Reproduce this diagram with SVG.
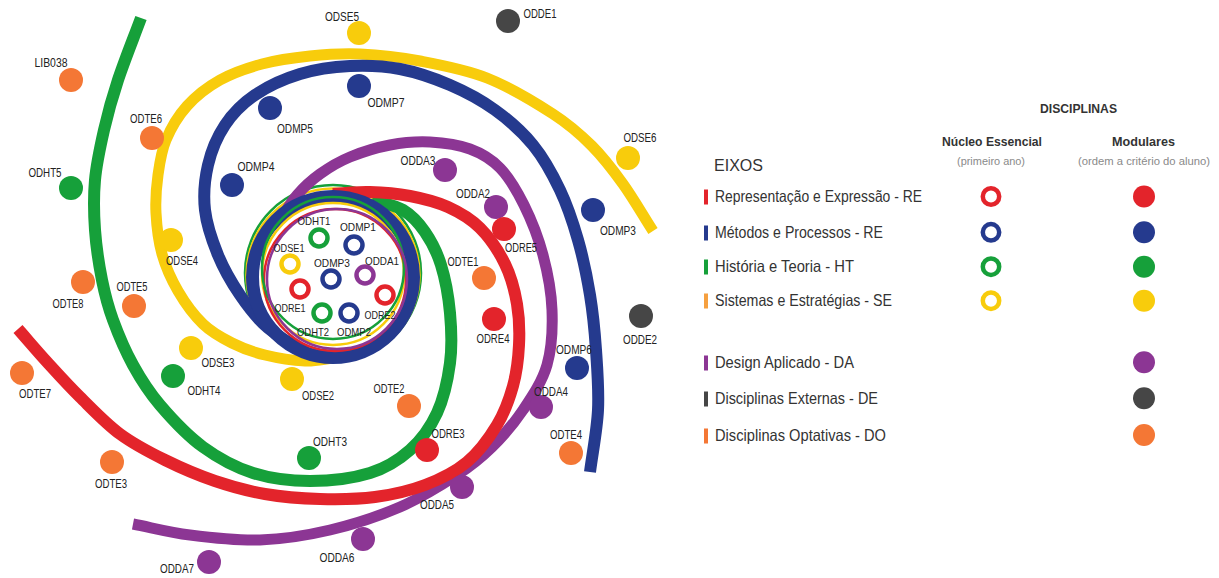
<svg xmlns="http://www.w3.org/2000/svg" width="1219" height="578" viewBox="0 0 1219 578">
<style>
.sp{fill:none;stroke-linecap:butt}
.thin{fill:none;stroke-width:2.5}
.lbl{font-family:"Liberation Sans",Arial,sans-serif;font-size:12px;fill:#222;text-anchor:middle}
.ilbl{font-family:"Liberation Sans",Arial,sans-serif;font-size:11.5px;fill:#222;text-anchor:middle}
.leg{font-family:"Liberation Sans",Arial,sans-serif;font-size:16.5px;fill:#333}
.head{font-family:"Liberation Sans",Arial,sans-serif;font-weight:bold;fill:#333}
.sub{font-family:"Liberation Sans",Arial,sans-serif;font-size:11px;fill:#8a8a8a}
.re{fill:#e3242b}.mp{fill:#253a8e}.ht{fill:#16a03a}.se{fill:#f8cc0c}.da{fill:#8c3694}.de{fill:#464646}.do{fill:#f47735}
.hre{fill:#fff;stroke:#e3242b;stroke-width:4.5}.hmp{fill:#fff;stroke:#253a8e;stroke-width:4.5}.hht{fill:#fff;stroke:#16a03a;stroke-width:4.5}.hse{fill:#fff;stroke:#f8cc0c;stroke-width:4.5}.hda{fill:#fff;stroke:#8c3694;stroke-width:4.5}
</style>
<rect width="1219" height="578" fill="#fff"/>

<g id="spirals">
  <circle class="thin" cx="333" cy="273" r="88" stroke="#16a03a"/>
  <circle class="thin" cx="333" cy="275" r="86.5" stroke="#f8cc0c"/>
  <path id="axis-HT" class="sp" stroke="#16a03a" stroke-width="12" d="M372,200 C381.1,202.6 394.2,204.7 403,210 C411.8,215.3 418.7,222.8 425,232 C431.3,241.2 436.8,251.5 441,265 C445.2,278.5 448.5,296.7 450,313 C451.5,329.3 452.2,346.3 450,363 C447.8,379.7 443.7,398.5 437,413 C430.3,427.5 421.2,440 410,450 C398.8,460 386.7,467.8 370,473 C353.3,478.2 329.5,481 310,481 C290.5,481 270.8,478.7 253,473 C235.2,467.3 218.5,458.3 203,447 C187.5,435.7 171.7,418.7 160,405 C148.3,391.3 140.8,379.2 133,365 C125.2,350.8 118.2,334.2 113,320 C107.8,305.8 105,295 102,280 C99,265 96.2,246.7 95,230 C93.8,213.3 93.5,196.7 95,180 C96.5,163.3 100.2,146.7 104,130 C107.8,113.3 111.8,98.7 118,80 C124.2,61.3 133.3,38.7 141,18"/>
  <path id="axis-DA" class="sp" stroke="#8c3694" stroke-width="11" d="M279,221 C284.4,214 290.2,202.8 297,195 C303.8,187.2 311.2,180.3 320,174 C328.8,167.7 338.3,161.8 350,157 C361.7,152.2 376.7,147.5 390,145 C403.3,142.5 416.7,141.3 430,142 C443.3,142.7 458.3,144.7 470,149 C481.7,153.3 491,158.7 500,168 C509,177.3 516.8,190.5 524,205 C531.2,219.5 538.3,237.5 543,255 C547.7,272.5 551.3,291.7 552,310 C552.7,328.3 551.8,348.3 547,365 C542.2,381.7 532.2,396.3 523,410 C513.8,423.7 503,436.2 492,447 C481,457.8 472.3,465 457,475 C441.7,485 421.2,497.8 400,507 C378.8,516.2 353.3,524.5 330,530 C306.7,535.5 283.3,539.2 260,540 C236.7,540.8 211.2,537.7 190,535 C168.8,532.3 152,527.7 133,524"/>
  <path id="axis-RE" class="sp" stroke="#e3242b" stroke-width="12" d="M333,194 C344.7,192.8 357.2,191.7 370,192 C382.8,192.3 397,193.5 410,196 C423,198.5 436.3,201.7 448,207 C459.7,212.3 470.5,218.5 480,228 C489.5,237.5 498.8,251.3 505,264 C511.2,276.7 514.7,290.5 517,304 C519.3,317.5 519.7,331.3 519,345 C518.3,358.7 516.7,372.7 513,386 C509.3,399.3 504.7,412.3 497,425 C489.3,437.7 479,452 467,462 C455,472 440.3,479.2 425,485 C409.7,490.8 392.5,494.7 375,497 C357.5,499.3 338.3,499.5 320,499 C301.7,498.5 282.5,497 265,494 C247.5,491 231.7,486.7 215,481 C198.3,475.3 180.8,467.8 165,460 C149.2,452.2 134.2,444.5 120,434 C105.8,423.5 92.2,409 80,397 C67.8,385 57.3,373.3 47,362 C36.7,350.7 27.7,340 18,329"/>
  <path id="axis-SE" class="sp" stroke="#f8cc0c" stroke-width="11" d="M333,358 C323.8,359 316.3,361.5 305,361 C293.7,360.5 277.2,358 265,355 C252.8,352 242.3,348.2 232,343 C221.7,337.8 212,332.7 203,324 C194,315.3 184.8,302.7 178,291 C171.2,279.3 165.7,267 162,254 C158.3,241 156.7,226.2 156,213 C155.3,199.8 156.3,187.2 158,175 C159.7,162.8 161.2,151.5 166,140 C170.8,128.5 178,116 187,106 C196,96 207.5,87 220,80 C232.5,73 247,68 262,64 C277,60 293.7,57.7 310,56 C326.3,54.3 341.7,53.2 360,54 C378.3,54.8 398.8,57 420,61 C441.2,65 464.8,69.2 487,78 C509.2,86.8 535.5,102.7 553,114 C570.5,125.3 580.3,134.3 592,146 C603.7,157.7 612.8,169.8 623,184 C633.2,198.2 642.8,215.2 653,231"/>
  <path id="axis-MP" class="sp" stroke="#253a8e" stroke-width="12" d="M307,352 C297.2,347.2 279.2,337.5 268,328 C256.8,318.5 248.3,307.2 240,295 C231.7,282.8 223.8,269.2 218,255 C212.2,240.8 206.7,225 205,210 C203.3,195 204.7,179.2 208,165 C211.3,150.8 217.2,136.7 225,125 C232.8,113.3 242.5,103.5 255,95 C267.5,86.5 284.2,78.8 300,74 C315.8,69.2 333.3,66.8 350,66 C366.7,65.2 383.3,65.8 400,69 C416.7,72.2 434.2,78.2 450,85 C465.8,91.8 481.2,100 495,110 C508.8,120 522.2,131.7 533,145 C543.8,158.3 552.5,174.2 560,190 C567.5,205.8 573,222.5 578,240 C583,257.5 587,276.7 590,295 C593,313.3 594.7,330.8 596,350 C597.3,369.2 599,389.7 598,410 C597,430.3 592.7,451.3 590,472"/>
  <circle cx="333" cy="277" r="80.5" fill="none" stroke="#253a8e" stroke-width="13"/>
  <circle class="thin" cx="333" cy="274" r="71" stroke="#f8cc0c"/>
  <circle class="thin" cx="335" cy="280" r="71" stroke="#e3242b"/>
  <circle class="thin" cx="333" cy="268" r="71" stroke="#16a03a"/>
  <circle class="thin" cx="337" cy="279" r="70" stroke="#8c3694"/>
</g>

<g id="nodes">
  <g id="node-ODHT1"><circle class="hht" cx="319" cy="238" r="8.5"/><text class="ilbl" x="314" y="225" textLength="33" lengthAdjust="spacingAndGlyphs">ODHT1</text></g>
  <g id="node-ODMP1"><circle class="hmp" cx="354" cy="245" r="8.5"/><text class="ilbl" x="358" y="231" textLength="36" lengthAdjust="spacingAndGlyphs">ODMP1</text></g>
  <g id="node-ODSE1"><circle class="hse" cx="290" cy="264" r="8.5"/><text class="ilbl" x="289" y="252" textLength="31" lengthAdjust="spacingAndGlyphs">ODSE1</text></g>
  <g id="node-ODMP3c"><circle class="hmp" cx="331" cy="279" r="8.5"/><text class="ilbl" x="332" y="267" textLength="36" lengthAdjust="spacingAndGlyphs">ODMP3</text></g>
  <g id="node-ODDA1"><circle class="hda" cx="365" cy="275" r="8.5"/><text class="ilbl" x="382" y="265" textLength="34" lengthAdjust="spacingAndGlyphs">ODDA1</text></g>
  <g id="node-ODRE1"><circle class="hre" cx="300" cy="289" r="8.5"/><text class="ilbl" x="290" y="312" textLength="31" lengthAdjust="spacingAndGlyphs">ODRE1</text></g>
  <g id="node-ODRE2"><circle class="hre" cx="385" cy="295" r="8.5"/><text class="ilbl" x="380" y="319" textLength="31" lengthAdjust="spacingAndGlyphs">ODRE2</text></g>
  <g id="node-ODHT2"><circle class="hht" cx="322" cy="313" r="8.5"/><text class="ilbl" x="313" y="336" textLength="32" lengthAdjust="spacingAndGlyphs">ODHT2</text></g>
  <g id="node-ODMP2"><circle class="hmp" cx="349" cy="313" r="8.5"/><text class="ilbl" x="354" y="336" textLength="34" lengthAdjust="spacingAndGlyphs">ODMP2</text></g>

  <g id="node-LIB038"><circle class="do" cx="71" cy="80" r="12"/><text class="lbl" x="51" y="67" textLength="33" lengthAdjust="spacingAndGlyphs">LIB038</text></g>
  <g id="node-ODSE5"><circle class="se" cx="359" cy="33" r="12"/><text class="lbl" x="342" y="21" textLength="34" lengthAdjust="spacingAndGlyphs">ODSE5</text></g>
  <g id="node-ODDE1"><circle class="de" cx="508" cy="21" r="12"/><text class="lbl" x="540" y="18" textLength="33" lengthAdjust="spacingAndGlyphs">ODDE1</text></g>
  <g id="node-ODMP7"><circle class="mp" cx="359" cy="86" r="12"/><text class="lbl" x="386" y="107" textLength="37" lengthAdjust="spacingAndGlyphs">ODMP7</text></g>
  <g id="node-ODMP5"><circle class="mp" cx="270" cy="108" r="12"/><text class="lbl" x="295" y="133" textLength="36" lengthAdjust="spacingAndGlyphs">ODMP5</text></g>
  <g id="node-ODTE6"><circle class="do" cx="152" cy="138" r="12"/><text class="lbl" x="146" y="123" textLength="32" lengthAdjust="spacingAndGlyphs">ODTE6</text></g>
  <g id="node-ODSE6"><circle class="se" cx="628" cy="158" r="12"/><text class="lbl" x="640" y="142" textLength="33" lengthAdjust="spacingAndGlyphs">ODSE6</text></g>
  <g id="node-ODDA3"><circle class="da" cx="445" cy="170" r="12"/><text class="lbl" x="418" y="165" textLength="35" lengthAdjust="spacingAndGlyphs">ODDA3</text></g>
  <g id="node-ODMP4"><circle class="mp" cx="232" cy="185" r="12"/><text class="lbl" x="256" y="171" textLength="37" lengthAdjust="spacingAndGlyphs">ODMP4</text></g>
  <g id="node-ODHT5"><circle class="ht" cx="71" cy="188" r="12"/><text class="lbl" x="45" y="177" textLength="33" lengthAdjust="spacingAndGlyphs">ODHT5</text></g>
  <g id="node-ODDA2"><circle class="da" cx="496" cy="207" r="12"/><text class="lbl" x="473" y="198" textLength="34" lengthAdjust="spacingAndGlyphs">ODDA2</text></g>
  <g id="node-ODMP3"><circle class="mp" cx="593" cy="210" r="12"/><text class="lbl" x="618" y="235" textLength="36" lengthAdjust="spacingAndGlyphs">ODMP3</text></g>
  <g id="node-ODRE5"><circle class="re" cx="504" cy="229" r="12"/><text class="lbl" x="521" y="252" textLength="32" lengthAdjust="spacingAndGlyphs">ODRE5</text></g>
  <g id="node-ODSE4"><circle class="se" cx="171" cy="240" r="12"/><text class="lbl" x="182" y="265" textLength="32" lengthAdjust="spacingAndGlyphs">ODSE4</text></g>
  <g id="node-ODTE1"><circle class="do" cx="484" cy="278" r="12"/><text class="lbl" x="463" y="266" textLength="31" lengthAdjust="spacingAndGlyphs">ODTE1</text></g>
  <g id="node-ODTE8"><circle class="do" cx="83" cy="282" r="12"/><text class="lbl" x="68" y="308" textLength="31" lengthAdjust="spacingAndGlyphs">ODTE8</text></g>
  <g id="node-ODTE5"><circle class="do" cx="134" cy="306" r="12"/><text class="lbl" x="132" y="291" textLength="31" lengthAdjust="spacingAndGlyphs">ODTE5</text></g>
  <g id="node-ODDE2"><circle class="de" cx="641" cy="316" r="12"/><text class="lbl" x="640" y="344" textLength="34" lengthAdjust="spacingAndGlyphs">ODDE2</text></g>
  <g id="node-ODRE4"><circle class="re" cx="494" cy="319" r="12"/><text class="lbl" x="493" y="343" textLength="33" lengthAdjust="spacingAndGlyphs">ODRE4</text></g>
  <g id="node-ODSE3"><circle class="se" cx="191" cy="348" r="12"/><text class="lbl" x="218" y="367" textLength="33" lengthAdjust="spacingAndGlyphs">ODSE3</text></g>
  <g id="node-ODMP6"><circle class="mp" cx="577" cy="368" r="12"/><text class="lbl" x="574" y="354" textLength="36" lengthAdjust="spacingAndGlyphs">ODMP6</text></g>
  <g id="node-ODTE7"><circle class="do" cx="22" cy="373" r="12"/><text class="lbl" x="35" y="398" textLength="32" lengthAdjust="spacingAndGlyphs">ODTE7</text></g>
  <g id="node-ODHT4"><circle class="ht" cx="173" cy="376" r="12"/><text class="lbl" x="204" y="395" textLength="33" lengthAdjust="spacingAndGlyphs">ODHT4</text></g>
  <g id="node-ODSE2"><circle class="se" cx="292" cy="379" r="12"/><text class="lbl" x="318" y="400" textLength="32" lengthAdjust="spacingAndGlyphs">ODSE2</text></g>
  <g id="node-ODTE2"><circle class="do" cx="409" cy="406" r="12"/><text class="lbl" x="389" y="393" textLength="31" lengthAdjust="spacingAndGlyphs">ODTE2</text></g>
  <g id="node-ODDA4"><circle class="da" cx="541" cy="407" r="12"/><text class="lbl" x="551" y="396" textLength="34" lengthAdjust="spacingAndGlyphs">ODDA4</text></g>
  <g id="node-ODRE3"><circle class="re" cx="427" cy="450" r="12"/><text class="lbl" x="448" y="438" textLength="33" lengthAdjust="spacingAndGlyphs">ODRE3</text></g>
  <g id="node-ODTE4"><circle class="do" cx="571" cy="453" r="12"/><text class="lbl" x="566" y="439" textLength="32" lengthAdjust="spacingAndGlyphs">ODTE4</text></g>
  <g id="node-ODHT3"><circle class="ht" cx="309" cy="458" r="12"/><text class="lbl" x="330" y="446" textLength="34" lengthAdjust="spacingAndGlyphs">ODHT3</text></g>
  <g id="node-ODTE3"><circle class="do" cx="112" cy="462" r="12"/><text class="lbl" x="111" y="488" textLength="32" lengthAdjust="spacingAndGlyphs">ODTE3</text></g>
  <g id="node-ODDA5"><circle class="da" cx="462" cy="487" r="12"/><text class="lbl" x="437" y="509" textLength="34" lengthAdjust="spacingAndGlyphs">ODDA5</text></g>
  <g id="node-ODDA6"><circle class="da" cx="363" cy="539" r="12"/><text class="lbl" x="337" y="562" textLength="35" lengthAdjust="spacingAndGlyphs">ODDA6</text></g>
  <g id="node-ODDA7"><circle class="da" cx="209" cy="562" r="12"/><text class="lbl" x="177" y="573" textLength="34" lengthAdjust="spacingAndGlyphs">ODDA7</text></g>
</g>

<g id="legend">
  <text class="head" x="1040" y="113" font-size="12.5" textLength="77" lengthAdjust="spacingAndGlyphs">DISCIPLINAS</text>
  <text class="head" x="942" y="146" font-size="13.5" textLength="100" lengthAdjust="spacingAndGlyphs">Núcleo Essencial</text>
  <text class="head" x="1112" y="146" font-size="13.5" textLength="63" lengthAdjust="spacingAndGlyphs">Modulares</text>
  <text class="sub" x="957" y="165" textLength="68" lengthAdjust="spacingAndGlyphs">(primeiro ano)</text>
  <text class="sub" x="1078" y="165" textLength="132" lengthAdjust="spacingAndGlyphs">(ordem a critério do aluno)</text>
  <text class="leg" x="714" y="171" font-size="21" textLength="49" lengthAdjust="spacingAndGlyphs">EIXOS</text>

  <g id="leg-RE"><rect class="re" x="704" y="189.5" width="4" height="15"/><text class="leg" x="715" y="202" textLength="207" lengthAdjust="spacingAndGlyphs">Representação e Expressão - RE</text><circle class="hre" cx="991" cy="196.5" r="8.2"/><circle class="re" cx="1144" cy="196.5" r="11"/></g>
  <g id="leg-MP"><rect class="mp" x="704" y="225.5" width="4" height="15"/><text class="leg" x="715" y="238" textLength="168" lengthAdjust="spacingAndGlyphs">Métodos e Processos - RE</text><circle class="hmp" cx="991" cy="232.3" r="8.2"/><circle class="mp" cx="1144" cy="232.3" r="11"/></g>
  <g id="leg-HT"><rect class="ht" x="704" y="259.5" width="4" height="15"/><text class="leg" x="715" y="272" textLength="139" lengthAdjust="spacingAndGlyphs">História e Teoria - HT</text><circle class="hht" cx="991" cy="266.7" r="8.2"/><circle class="ht" cx="1144" cy="266.7" r="11"/></g>
  <g id="leg-SE"><rect x="704" y="293.5" width="4" height="15" fill="#f6a03f"/><text class="leg" x="715" y="306" textLength="177" lengthAdjust="spacingAndGlyphs">Sistemas e Estratégias - SE</text><circle class="hse" cx="991" cy="300.7" r="8.2"/><circle class="se" cx="1144" cy="300.7" r="11"/></g>
  <g id="leg-DA"><rect class="da" x="704" y="355.5" width="4" height="15"/><text class="leg" x="715" y="368" textLength="139" lengthAdjust="spacingAndGlyphs">Design Aplicado - DA</text><circle class="da" cx="1144" cy="362.3" r="11"/></g>
  <g id="leg-DE"><rect class="de" x="704" y="391.5" width="4" height="15"/><text class="leg" x="715" y="404" textLength="163" lengthAdjust="spacingAndGlyphs">Disciplinas Externas - DE</text><circle class="de" cx="1144" cy="398.3" r="11"/></g>
  <g id="leg-DO"><rect class="do" x="704" y="428.5" width="4" height="15"/><text class="leg" x="715" y="441" textLength="171" lengthAdjust="spacingAndGlyphs">Disciplinas Optativas - DO</text><circle class="do" cx="1144" cy="435" r="11"/></g>
</g>
</svg>
